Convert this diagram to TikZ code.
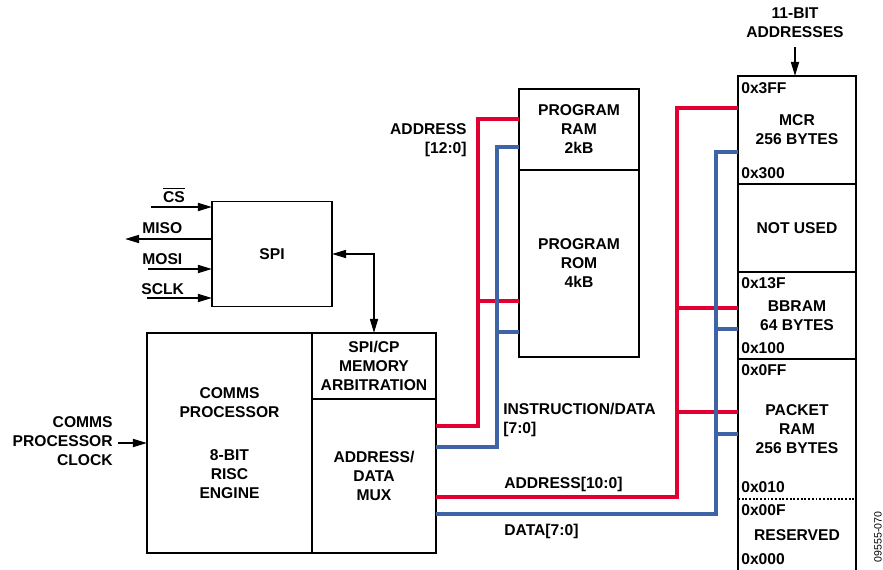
\documentclass[tikz,border=0pt]{standalone}
\usepackage{fontspec}
\setmainfont{Liberation Sans}
\usepackage{xcolor}
\usepackage{tikz}
\usetikzlibrary{arrows.meta, positioning, calc}
\definecolor{busred}{RGB}{226,0,50}
\definecolor{busblue}{RGB}{62,100,165}
\tikzset{
  %% Black outline
  frm/.style={draw=black, line width=1.1pt},
  %% Block with black outline
  blk/.style={
    rectangle, frm, outer sep=0pt,
    text centered, align=center, inner sep=0pt
  },
  %% Section of the memory map (outline drawn apart)
  mem/.style={
    rectangle, minimum width=2.36cm, outer sep=0pt,
    align=center, inner sep=0pt
  },
  %% Address label in the memory map
  addr/.style={anchor=west, inner sep=0pt},
  %% Signal arrow
  sig/.style={-{Triangle[length=8pt,width=4.5pt]},
              draw=black, line width=1.1pt},
  dsig/.style={{Triangle[length=8pt,width=4.5pt]}-%
               {Triangle[length=8pt,width=4.5pt]},
               draw=black, line width=1.1pt},
  %% Buses
  abus/.style={draw=busred, line width=1.8pt},
  dbus/.style={draw=busblue, line width=1.8pt},
}

\begin{document}
\begin{tikzpicture}[x=0.02cm, y=-0.02cm,
    every node/.style={font=\fontsize{8.9}{10.8}\selectfont\bfseries}]
  \useasboundingbox (0,0) rectangle (883,569);

  %% SPI block and its pins
  \node[blk, minimum width=2.4cm, minimum height=2.1cm] (spi) at (272,254) {SPI};
  \coordinate (csin)   at (151,207);
  \coordinate (misout) at (125,239);
  \coordinate (mosiin) at (148,269);
  \coordinate (sclkin) at (147,298);
  \draw[sig] (csin) -- (csin -| spi.west);
  \draw[sig] (misout -| spi.west) -- (misout);
  \draw[sig] (mosiin) -- (mosiin -| spi.west);
  \draw[sig] (sclkin) -- (sclkin -| spi.west);
  \node (cs)   at (174,195) {$\overline{\mbox{\bfseries CS}}$};
  \node[anchor=west, inner sep=0pt] (miso) at (142,228) {MISO};
  \node[anchor=west, inner sep=0pt] (mosi) at (142,259) {MOSI};
  \node[anchor=west, inner sep=0pt] (sclk) at (141,289) {SCLK};

  %% Comms processor
  \node[blk, minimum width=3.3cm, minimum height=4.4cm] (cp) at (229.5,443)
       {COMMS\\PROCESSOR\\[14pt]8-BIT\\RISC\\ENGINE};
  \node[blk, minimum width=2.48cm, minimum height=1.32cm] (arb) at (374,366)
       {SPI/CP\\MEMORY\\ARBITRATION};
  \node[blk, minimum width=2.48cm, minimum height=3.08cm, below=0pt of arb] (mux)
       {ADDRESS/\\DATA\\MUX};
  \draw[dsig] (spi.east) -| (arb.north);

  %% Clock input
  \coordinate (clkin) at (118,443);
  \draw[sig] (clkin) -- (clkin -| cp.west);
  \node[anchor=east, align=right, inner sep=0pt] (clk) at (113,441)
       {COMMS\\PROCESSOR\\CLOCK};

  %% Program memory
  \node[blk, minimum width=2.4cm, minimum height=1.62cm] (pram) at (579,129.5)
       {PROGRAM\\RAM\\2kB};
  \node[blk, minimum width=2.4cm, minimum height=3.74cm, below=0pt of pram] (prom)
       {PROGRAM\\ROM\\4kB};

  %% Memory map
  \node[mem, minimum height=2.16cm] (mcr) at (797,130) {MCR\\256 BYTES};
  \node[mem, minimum height=1.76cm, below=0pt of mcr]   (nused) {NOT USED};
  \node[mem, minimum height=1.74cm, below=0pt of nused] (bbram) {BBRAM\\64 BYTES};
  \node[mem, minimum height=2.8cm,  below=0pt of bbram] (pkt)   {PACKET\\RAM\\256 BYTES};
  \node[mem, minimum height=1.46cm, below=0pt of pkt]   (rsvd)  {RESERVED};
  \draw[frm] (mcr.north west) rectangle (rsvd.south east);
  \draw[frm] (mcr.south west) -- (mcr.south east);
  \draw[frm] (nused.south west) -- (nused.south east);
  \draw[frm] (bbram.south west) -- (bbram.south east);
  \draw[frm, densely dotted] (pkt.south west) -- (pkt.south east);

  %% Address limits
  \node[addr] (a3ff) at (741,88)  {0x3FF};
  \node[addr] (a300) at (741,173) {0x300};
  \node[addr] (a13f) at (741,283) {0x13F};
  \node[addr] (a100) at (741,348) {0x100};
  \node[addr] (a0ff) at (741,370) {0x0FF};
  \node[addr] (a010) at (741,487) {0x010};
  \node[addr] (a00f) at (741,510) {0x00F};
  \node[addr] (a000) at (741,559) {0x000};

  %% 11-bit address input
  \node[align=center, inner sep=0pt] (abits) at (795,23) {11-BIT\\ADDRESSES};
  \coordinate (adin) at (795,47);
  \draw[sig] (adin) -- (adin |- mcr.north);

  %% Program address bus
  \draw[abus] (mux.east |- 0,426) -| (478,119) -- (pram.west |- 0,119);
  \draw[abus] (478,301) -- (prom.west |- 0,301);
  %% Instruction/data bus
  \draw[dbus] (mux.east |- 0,447) -| (497,147) -- (pram.west |- 0,147);
  \draw[dbus] (497,332) -- (prom.west |- 0,332);
  %% Memory address bus
  \draw[abus] (mux.east |- 0,497) -| (677,108) -- (mcr.west |- 0,108);
  \draw[abus] (677,308) -- (bbram.west |- 0,308);
  \draw[abus] (677,412) -- (pkt.west |- 0,412);
  %% Memory data bus
  \draw[dbus] (mux.east |- 0,514) -| (716,152) -- (mcr.west |- 0,152);
  \draw[dbus] (716,329) -- (bbram.west |- 0,329);
  \draw[dbus] (716,434) -- (pkt.west |- 0,434);

  %% Bus labels
  \node[anchor=east, align=right, inner sep=0pt] (lpa) at (467,140) {ADDRESS\\{[12:0]}};
  \node[anchor=west, align=left, inner sep=0pt] (lid) at (503,420)
       {INSTRUCTION/DATA\\{[7:0]}};
  \node[anchor=west, inner sep=0pt] (lma) at (504,484) {ADDRESS[10:0]};
  \node[anchor=west, inner sep=0pt] (lmd) at (504,531) {DATA[7:0]};

  %% Figure number
  \node[rotate=90, font=\fontsize{6}{7}\selectfont, inner sep=0pt] (figid)
       at (878,537) {09555-070};

\end{tikzpicture}
\end{document}
